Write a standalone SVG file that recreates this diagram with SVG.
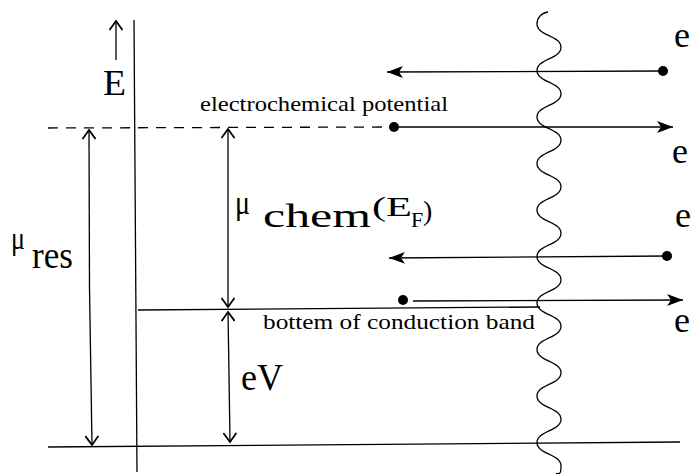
<svg xmlns="http://www.w3.org/2000/svg" width="691" height="474" viewBox="0 0 691 474">
<style>
.ln{stroke:#000;stroke-width:1.3;fill:none}
.t{font-family:'Liberation Serif','Times New Roman',serif;fill:#000}
.dot{fill:#000}
</style>
<defs>
<marker id="fa" markerUnits="userSpaceOnUse" markerWidth="18" markerHeight="14" refX="16" refY="7" orient="auto">
<path d="M0,1 L16,7 L0,13 L4,7 z" fill="#000"/>
</marker>
<marker id="va" markerUnits="userSpaceOnUse" markerWidth="14" markerHeight="14" refX="10" refY="7" orient="auto">
<path d="M1,0.5 L10,7 L1,13.5" fill="none" stroke="#000" stroke-width="1.8"/>
</marker>
</defs>
<rect width="691" height="474" fill="#fff"/>
<g id="axis">
<line class="ln" x1="134" y1="20" x2="137" y2="472"/>
<line class="ln" x1="116" y1="60" x2="116" y2="21" marker-end="url(#va)"/>
<text class="t" x="103" y="95" font-size="36" textLength="23" lengthAdjust="spacingAndGlyphs">E</text>
</g>
<g id="levels">
<line class="ln" x1="48" y1="128" x2="390" y2="127" stroke-dasharray="10,8" stroke-width="1.6"/>
<line class="ln" x1="138" y1="310" x2="540" y2="307" stroke-width="1.6"/>
<line class="ln" x1="48" y1="447" x2="680" y2="442" stroke-width="1.4"/>
</g>
<g id="barrier">
<path class="ln" stroke-width="1.6" d="M548 12 C541 13 537 18 537 24 C537 35.6 561 35.6 561 47.25 S537 58.9 537 70.5 S561 82.1 561 93.75 S537 105.4 537 117 S561 128.6 561 140.25 S537 151.9 537 163.5 S561 175.1 561 186.75 S537 198.4 537 210 S561 221.6 561 233.25 S537 244.9 537 256.5 S561 268.1 561 279.75 S537 291.4 537 303 S561 314.6 561 326.25 S537 337.9 537 349.5 S561 361.1 561 372.75 S537 384.4 537 396 S561 407.6 561 419.25 S537 430.9 537 442.5 S561 454.1 561 465.75 S558 472 556 474"/>
</g>
<g id="connectors">
<line class="ln" x1="662" y1="71" x2="387" y2="72" marker-end="url(#fa)"/>
<line class="ln" x1="393" y1="127" x2="673" y2="127" stroke-width="1.6" marker-end="url(#fa)"/>
<line class="ln" x1="668" y1="256" x2="389" y2="258" marker-end="url(#fa)"/>
<line class="ln" x1="413" y1="301" x2="683" y2="300" marker-end="url(#fa)"/>
<line class="ln" x1="89.5" y1="288" x2="89" y2="130" marker-end="url(#va)"/>
<line class="ln" x1="89.5" y1="288" x2="92" y2="445" marker-end="url(#va)"/>
<line class="ln" x1="228" y1="220" x2="228" y2="129" marker-end="url(#va)"/>
<line class="ln" x1="228" y1="220" x2="228" y2="307" marker-end="url(#va)"/>
<line class="ln" x1="229" y1="375" x2="228" y2="312" marker-end="url(#va)"/>
<line class="ln" x1="229" y1="375" x2="230" y2="442" marker-end="url(#va)"/>
</g>
<g id="electrons">
<circle class="dot" cx="663" cy="71" r="5"/>
<circle class="dot" cx="394" cy="127" r="5"/>
<circle class="dot" cx="667" cy="256" r="5"/>
<circle class="dot" cx="403" cy="300" r="5"/>
<text class="t" x="674" y="47" font-size="36" textLength="16" lengthAdjust="spacingAndGlyphs">e</text>
<text class="t" x="672" y="163" font-size="36" textLength="16" lengthAdjust="spacingAndGlyphs">e</text>
<text class="t" x="675" y="227" font-size="36" textLength="16" lengthAdjust="spacingAndGlyphs">e</text>
<text class="t" x="674" y="332" font-size="36" textLength="16" lengthAdjust="spacingAndGlyphs">e</text>
</g>
<g id="labels">
<text class="t" x="200" y="111" font-size="22" textLength="248" lengthAdjust="spacingAndGlyphs">electrochemical potential</text>
<text class="t" x="263" y="329" font-size="22" textLength="272" lengthAdjust="spacingAndGlyphs">bottem of conduction band</text>
<text class="t" x="235" y="214" font-size="33" textLength="15" lengthAdjust="spacingAndGlyphs">μ</text>
<text class="t" x="263" y="227" font-size="34" textLength="108" lengthAdjust="spacingAndGlyphs">chem</text>
<text class="t" x="372" y="216" font-size="28" textLength="40" lengthAdjust="spacingAndGlyphs">(E</text>
<text class="t" x="411" y="227" font-size="22">F</text>
<text class="t" x="423" y="220" font-size="28">)</text>
<text class="t" x="11" y="249" font-size="31" textLength="14" lengthAdjust="spacingAndGlyphs">μ</text>
<text class="t" x="32" y="268" font-size="38" textLength="41" lengthAdjust="spacingAndGlyphs">res</text>
<text class="t" x="241" y="390" font-size="37" textLength="42" lengthAdjust="spacingAndGlyphs">eV</text>
</g>
</svg>
